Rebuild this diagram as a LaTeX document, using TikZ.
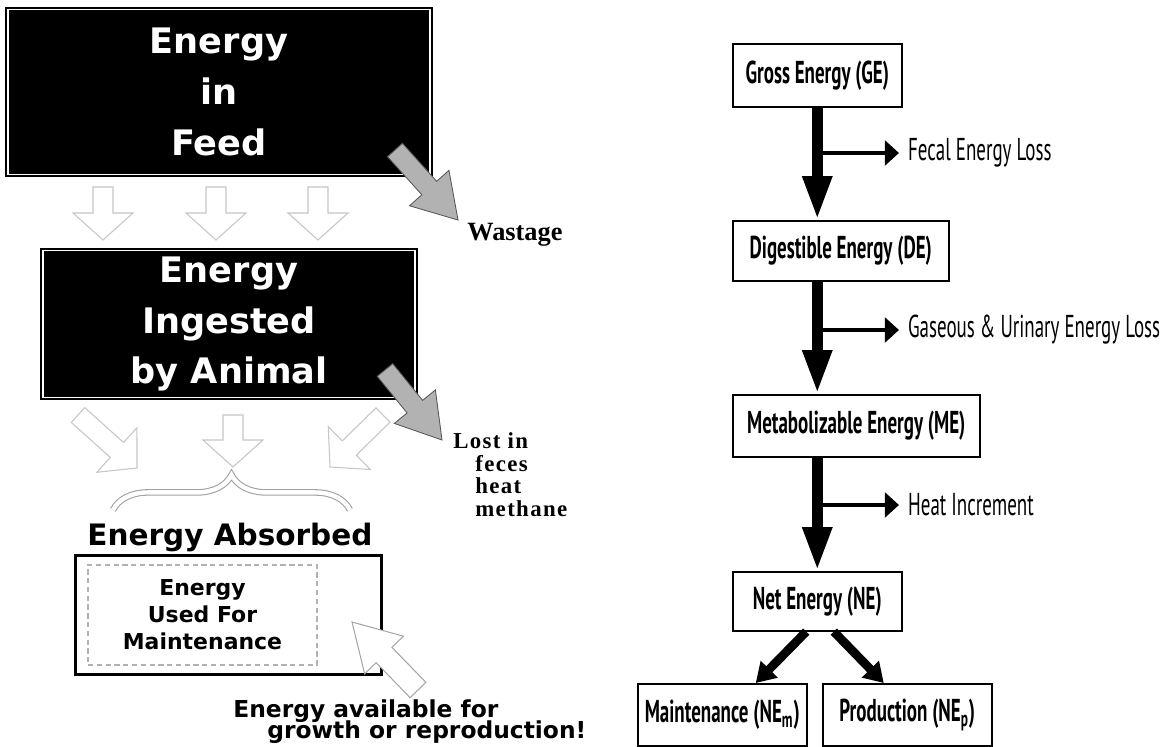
\documentclass[tikz,border=0pt]{standalone}
\usepackage{fontspec}
\setmainfont{DejaVu Sans}
\newfontfamily\timesfont{Liberation Serif}
\newfontfamily\lostfont{Liberation Serif}[LetterSpace=6]
\newfontfamily\narrowfont{PT Sans}[FakeStretch=0.6]
\usetikzlibrary{arrows.meta,calc,decorations.pathreplacing}

% block arrow: [style]{tail}{tip}{half shaft}{half head}{head length}
\newcommand{\blockarrow}[6][]{%
  \path ($(#3)!#6!(#2)$) coordinate (hb);
  \draw[#1] ($(#2)!#4!90:(#3)$) -- ($(hb)!#4!90:(#3)$) -- ($(hb)!#5!90:(#3)$)
    -- (#3) -- ($(hb)!#5!-90:(#3)$) -- ($(hb)!#4!-90:(#3)$)
    -- ($(#2)!#4!-90:(#3)$) -- cycle;}

\begin{document}
\begin{tikzpicture}[x=0.02cm, y=-0.02cm,
	blackbox/.style = {draw=black, double=white, double distance=1pt, line width=1.2pt, fill=black,
		text=white, align=center, font=\bfseries\fontsize{20}{29}\selectfont},
	hollow/.style = {draw=gray!45, fill=white, line width=0.6pt},
	waste/.style = {draw=gray!70!black, fill=gray!60, line width=0.5pt},
	ebox/.style = {draw, line width=0.9pt, inner sep=0pt, font=\narrowfont\bfseries\fontsize{18}{21}\selectfont},
	loss/.style = {font=\narrowfont\fontsize{18}{21}\selectfont, inner sep=1pt},
	thickarrow/.style = {line width=6pt, -{Triangle[width=15.5pt,length=25pt]}},
	branch/.style = {line width=2.6pt, -{Triangle[width=14pt,length=8pt]}, shorten >=4pt},
	splitarrow/.style = {line width=5pt, -{Triangle[width=13pt,length=11pt]}}]

		\useasboundingbox (0,0) rectangle (1161,747);

		% left: feed to animal
		\node[blackbox, minimum width=8.44cm, minimum height=3.3cm] (feed) at (219,92) {Energy\\in\\Feed};
		\node[blackbox, minimum width=7.44cm, minimum height=2.92cm] (ingest) at (229,324) {Energy\\Ingested\\by Animal};

		\foreach \x [count=\i] in {103,216,318} {
			\coordinate (down\i) at (\x,187);
			\coordinate (down\i e) at (\x,240);
			\blockarrow[hollow]{down\i}{down\i e}{0.2cm}{0.6cm}{0.54cm}
		}

		\coordinate (abs1) at (78,415);
		\coordinate (abs1e) at (137,468);
		\coordinate (abs2) at (233,415);
		\coordinate (abs2e) at (233,467);
		\coordinate (abs3) at (383,415);
		\coordinate (abs3e) at (330,467);
		\blockarrow[hollow]{abs1}{abs1e}{0.2cm}{0.6cm}{0.54cm}
		\blockarrow[hollow]{abs2}{abs2e}{0.2cm}{0.6cm}{0.54cm}
		\blockarrow[hollow]{abs3}{abs3e}{0.2cm}{0.6cm}{0.54cm}

		\coordinate (wasteA) at (395,150);
		\coordinate (wasteB) at (458,220);
		\blockarrow[waste]{wasteA}{wasteB}{0.2cm}{0.53cm}{0.86cm}
		\node[font=\timesfont\bfseries\fontsize{15}{18}\selectfont, anchor=base west, inner sep=0] (wastage) at (467,240) {Wastage};

		\coordinate (lostA) at (385,370);
		\coordinate (lostB) at (442,440);
		\blockarrow[waste]{lostA}{lostB}{0.2cm}{0.53cm}{0.86cm}
		\node[font=\lostfont\bfseries\fontsize{13}{13}\selectfont, align=left, anchor=north west, inner sep=0] (lost) at (453,432)
			{Lost in\\\hspace*{0.44cm}feces\\\hspace*{0.44cm}heat\\\hspace*{0.44cm}methane};

		\draw[decorate, decoration={brace, amplitude=20pt}, draw=gray!75, double=white, double distance=2.5pt, line width=0.6pt] (113,510) -- (350,510);
		\node[font=\bfseries\fontsize{16.8}{20}\selectfont, anchor=base, inner sep=0] (absorbed) at (230,545) {Energy Absorbed};

		\node[draw, line width=1.7pt, minimum width=6.14cm, minimum height=2.4cm] (absbox) at (228.5,615) {};
		\node[draw=gray!60, densely dashed, line width=0.7pt, minimum width=4.58cm, minimum height=2cm, align=center,
			font=\bfseries\fontsize{12.5}{15.3}\selectfont] (maint) at (202.5,615) {Energy\\Used For\\Maintenance};

		\coordinate (availA) at (418,690);
		\coordinate (availB) at (352,622);
		\blockarrow[hollow, draw=gray!70]{availA}{availB}{0.22cm}{0.54cm}{0.92cm}
		\node[font=\bfseries\fontsize{13.3}{16}\selectfont, anchor=base west, inner sep=0] (avail) at (233,717) {Energy available for};
		\node[font=\bfseries\fontsize{13.3}{16}\selectfont, anchor=base west, inner sep=0] (growth) at (267,738) {growth or reproduction!};

		% right: energy partition
		\node[ebox, minimum width=3.38cm, minimum height=1.26cm, anchor=north west] (GE) at (732,43) {Gross Energy (GE)};
		\node[ebox, minimum width=4.32cm, minimum height=1.2cm, anchor=north west] (DE) at (732,220) {Digestible Energy (DE)};
		\node[ebox, minimum width=4.94cm, minimum height=1.24cm, anchor=north west] (ME) at (732,394) {Metabolizable Energy (ME)};
		\node[ebox, minimum width=3.38cm, minimum height=1.18cm, anchor=north west] (NE) at (732,571) {Net Energy (NE)};
		\node[ebox, minimum width=3.38cm, minimum height=1.24cm, anchor=north west] (NEm) at (637,683) {Maintenance (NE\textsubscript{m})};
		\node[ebox, minimum width=3.38cm, minimum height=1.24cm, anchor=north west] (NEp) at (822,683) {Production (NE\textsubscript{p})};

		\node[loss, anchor=west] (fecal) at (906,153) {Fecal Energy Loss};
		\node[loss, anchor=west] (gas) at (906,330) {Gaseous \& Urinary Energy Loss};
		\node[loss, anchor=west] (heat) at (906,505) {Heat Increment};

		\draw[thickarrow] (GE.south) -- (GE.south |- DE.north);
		\draw[thickarrow] (DE.south -| GE.south) -- (GE.south |- ME.north);
		\draw[thickarrow] (ME.south -| GE.south) -- (GE.south |- NE.north);

		\draw[branch] (GE.south |- fecal.west) -- (fecal.west);
		\draw[branch] (GE.south |- gas.west) -- (gas.west);
		\draw[branch] (GE.south |- heat.west) -- (heat.west);

		\draw[splitarrow] ([xshift=-0.22cm]NE.south) -- ([xshift=0.67cm]NEm.north);
		\draw[splitarrow] ([xshift=0.33cm]NE.south) -- ([xshift=-0.47cm]NEp.north);
	\end{tikzpicture}
\end{document}
